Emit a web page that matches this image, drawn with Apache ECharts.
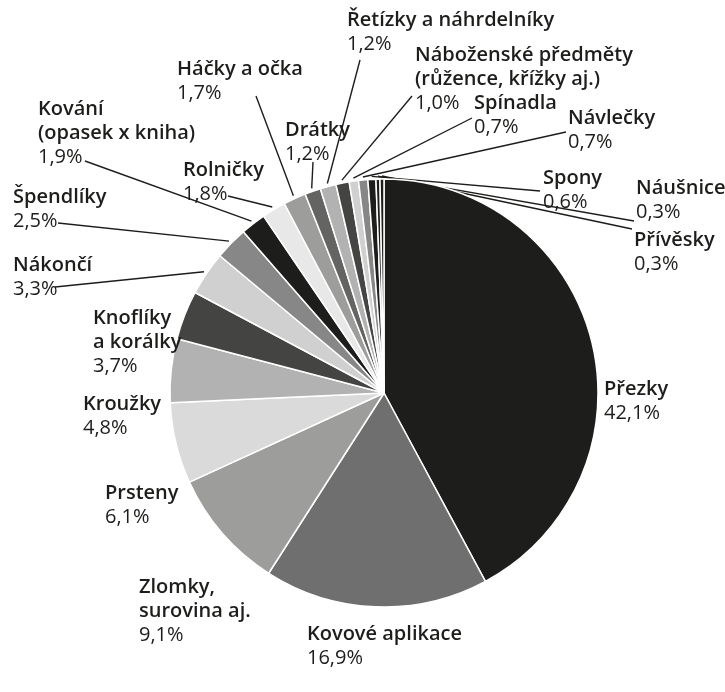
<!DOCTYPE html>
<html><head><meta charset="utf-8">
<script src="https://cdn.jsdelivr.net/npm/echarts@6/dist/echarts.min.js"></script>
<style>html,body{margin:0;padding:0;background:#fff}#c{width:725px;height:692px}</style>
</head><body><div id="c"></div>
<script>
const categories = ['Přezky', 'Kovové aplikace', 'Zlomky,\nsurovina aj.', 'Prsteny', 'Kroužky',
  'Knoflíky\na korálky', 'Nákončí', 'Špendlíky', 'Kování\n(opasek x kniha)', 'Rolničky',
  'Háčky a očka', 'Drátky', 'Řetízky a náhrdelníky', 'Náboženské předměty\n(růžence, křížky aj.)',
  'Spínadla', 'Návlečky', 'Spony', 'Náušnice', 'Přívěsky'];
const values = [42.1, 16.9, 9.1, 6.1, 4.8, 3.7, 3.3, 2.5, 1.9, 1.8, 1.7, 1.2, 1.2, 1.0, 0.7, 0.7, 0.6, 0.3, 0.3];
const colors = ['#1d1d1b', '#706f6f', '#9d9d9c', '#dadada', '#b2b2b2', '#444443', '#d0d0d0', '#878787',
  '#1d1d1b', '#e8e8e8', '#9d9d9c', '#646463', '#b2b2b2', '#444443', '#d0d0d0', '#878787',
  '#1d1d1b', '#1d1d1b', '#1d1d1b'];

// layout (pixels): pie geometry, label block top-left, leader-line end at the label
const CX = 384, CY = 393, R = 214;
const labelPos = [[604,377],[307,622],[139,575],[105,481],[83,392],[93,306],[13,253],[13,185],
  [38,97],[183,158],[177,57],[285,118],[347,8],[415,43],[474,91],[568,106],[543,166],[636,176],[634,228]];
const lineEnd = [null,null,null,null,null,null,[55,287],[58,223],[85,161],[228,196],[256,96],
  [313,162],[360,60],[412,96],[472,118],[566,132],[540,191],[634,221],[632,229]];

const total = values.reduce((a, b) => a + b, 0);
const edgePts = [];
let cum = 0;
values.forEach(v => {
  const a = (cum + v / 2) / total * 2 * Math.PI;
  edgePts.push([CX + (R + 3) * Math.sin(a), CY - (R + 3) * Math.cos(a)]);
  cum += v;
});

const data = categories.map((n, i) => {
  const d = { name: n, value: values[i], itemStyle: { color: colors[i] } };
  if (!lineEnd[i]) d.labelLine = { show: false };
  return d;
});

const txt = { fontFamily: 'Open Sans', fontSize: 20, lineHeight: 24, color: '#1d1d1b' };
const chart = echarts.init(document.getElementById('c'));
chart.setOption({
  animation: false,
  series: [{
    type: 'pie',
    center: [CX, CY],
    radius: [0, R],
    startAngle: 90,
    clockwise: true,
    avoidLabelOverlap: false,
    itemStyle: { borderColor: '#ffffff', borderWidth: 1.5 },
    label: {
      show: true,
      position: 'outside',
      formatter: p => p.name.split('\n').map(s => '{n|' + s + '}').join('\n') +
        '\n{p|' + p.value.toFixed(1).replace('.', ',') + '%}',
      rich: {
        n: Object.assign({}, txt, { fontWeight: 600 }),
        p: Object.assign({}, txt, { fontWeight: 400 })
      }
    },
    labelLine: { show: true, length: 10, length2: 10, lineStyle: { color: '#1d1d1b', width: 1.4 } },
    labelLayout: params => {
      const i = params.dataIndex;
      const res = { x: labelPos[i][0], y: labelPos[i][1], align: 'left', verticalAlign: 'top' };
      if (lineEnd[i]) res.labelLinePoints = [edgePts[i], lineEnd[i]];
      return res;
    },
    data: data
  }]
});
</script></body></html>
